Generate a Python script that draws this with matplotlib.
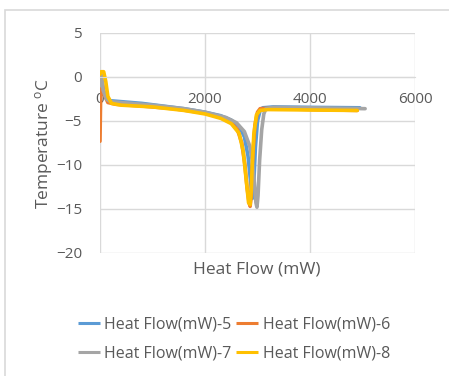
import matplotlib
matplotlib.use('Agg')
from matplotlib import pyplot as plt
from matplotlib.patches import Rectangle

# series: Heat Flow(mW)-5 .. -8  (x = heat flow, y = temperature)
x5 = [0, 20, 60, 120, 200, 400, 800, 1200, 1600, 2000, 2300, 2500, 2650, 2750, 2820, 2870, 2900, 2930, 2960, 3000, 3050, 3100, 3300, 4000, 4950]
y5 = [-1, 0, -1.5, -2.4, -2.7, -2.8, -3.0, -3.3, -3.6, -4.0, -4.4, -4.9, -5.6, -6.8, -9, -12, -13.8, -12, -8, -5, -3.8, -3.5, -3.4, -3.45, -3.5]

x6 = [0, 15, 40, 80, 150, 300, 800, 1400, 2000, 2300, 2500, 2620, 2700, 2760, 2800, 2840, 2860, 2880, 2910, 2950, 3000, 3050, 3200, 4000, 4900]
y6 = [-7.3, -1, -0.5, -2.0, -2.9, -3.1, -3.3, -3.6, -4.1, -4.6, -5.2, -6.0, -7.5, -10, -12.5, -14.3, -14.7, -13.5, -9, -5.5, -4.0, -3.6, -3.55, -3.7, -3.8]

x7 = [0, 30, 60, 120, 200, 400, 1000, 1600, 2000, 2400, 2600, 2750, 2850, 2900, 2940, 2970, 2990, 3010, 3040, 3080, 3120, 3160, 3300, 4000, 5050]
y7 = [-1, 0.2, -1.5, -2.5, -2.8, -2.9, -3.2, -3.6, -4.0, -4.6, -5.2, -6.2, -7.8, -9.5, -12, -14.3, -14.8, -13.5, -9.5, -6, -4.2, -3.6, -3.45, -3.5, -3.6]

x8 = [0, 20, 70, 110, 150, 220, 400, 1000, 1600, 2000, 2300, 2500, 2650, 2730, 2790, 2830, 2860, 2880, 2900, 2930, 2980, 3050, 3200, 4000, 4900]
y8 = [0.3, 0.6, 0.6, -0.5, -2.2, -3.0, -3.2, -3.4, -3.8, -4.2, -4.7, -5.3, -6.4, -8.5, -12, -14.3, -14.5, -13, -10, -6.5, -4.3, -3.8, -3.7, -3.75, -3.8]

labels = ['Heat Flow(mW)-5', 'Heat Flow(mW)-6', 'Heat Flow(mW)-7', 'Heat Flow(mW)-8']
colors = ['#5B9BD5', '#ED7D31', '#A5A5A5', '#FFC000']
xticks = [0, 2000, 4000, 6000]
yticks = [5, 0, -5, -10, -15, -20]

plt.rcParams['font.family'] = ['Open Sans', 'DejaVu Sans']
txt = '#595959'
grid = '#D9D9D9'

W, H = 449, 376
fig = plt.figure(figsize=(W / 100, H / 100), dpi=100, facecolor='w')
# chart border
fig.patches.append(Rectangle((5 / W, -0.1), 1.2, (1 - 10 / H) + 0.1, transform=fig.transFigure,
                             fill=False, edgecolor='#D9D9D9', linewidth=1.2))

ax = fig.add_axes([100 / W, 1 - 253 / H, 315 / W, 220 / H])
lines = []
for xs, ys, c, lab in zip([x5, x6, x7, x8], [y5, y6, y7, y8], colors, labels):
    ln, = ax.plot(xs, ys, color=c, lw=2.6, label=lab, solid_capstyle='round')
    lines.append(ln)

ax.set_xlim(0, 6000)
ax.set_ylim(-20, 5)
ax.set_xticks(xticks)
ax.set_yticks(yticks)
ax.grid(True, color=grid, lw=1)
ax.set_axisbelow(True)
for s in ['top', 'right', 'left']:
    ax.spines[s].set_visible(False)
ax.spines['bottom'].set_position(('data', 0))
ax.spines['bottom'].set_color(grid)
ax.tick_params(length=0, labelsize=11, colors=txt)
ax.tick_params(axis='x', pad=11)
ax.tick_params(axis='y', pad=13)

fig.text(44 / W, 1 - 143 / H, 'Temperature $\\mathregular{^{o}}$C', rotation=90,
         ha='center', va='center', fontsize=12.5, color=txt)
fig.text(257 / W, 1 - 270 / H, 'Heat Flow (mW)', ha='center', va='center',
         fontsize=12.5, color=txt)

# excel fills the legend row by row
order = [0, 2, 1, 3]
leg = fig.legend([lines[i] for i in order], [labels[i] for i in order],
                 loc='center', bbox_to_anchor=(234 / W, 1 - 339 / H), ncol=2,
                 frameon=False, fontsize=11.5, handlelength=1.35, handletextpad=0.3,
                 columnspacing=0.3, labelspacing=0.85)
for t in leg.get_texts():
    t.set_color(txt)
for h in leg.legend_handles:
    h.set_linewidth(2.2)
    h.set_solid_capstyle('butt')

plt.savefig('out.png', dpi=100)
